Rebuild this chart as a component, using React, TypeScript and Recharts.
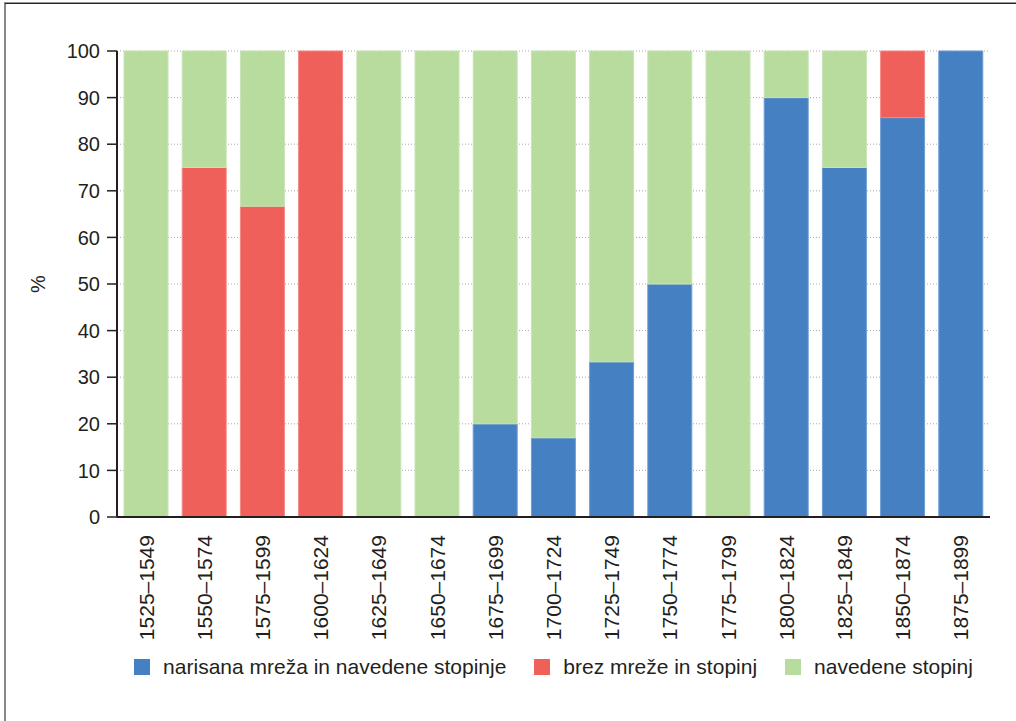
import React from "react";
import { BarChart, Bar, XAxis, YAxis, CartesianGrid, Legend } from "recharts";

const periods = [
  "1525–1549", "1550–1574", "1575–1599", "1600–1624", "1625–1649",
  "1650–1674", "1675–1699", "1700–1724", "1725–1749", "1750–1774",
  "1775–1799", "1800–1824", "1825–1849", "1850–1874", "1875–1899",
];
const mreza = [0, 0, 0, 0, 0, 0, 20, 17, 33.3, 50, 0, 90, 75, 85.7, 100];
const brez = [0, 75, 66.7, 100, 0, 0, 0, 0, 0, 0, 0, 0, 0, 14.3, 0];
const stopinje = [100, 25, 33.3, 0, 100, 100, 80, 83, 66.7, 50, 100, 10, 25, 0, 0];
const yTicks = [0, 10, 20, 30, 40, 50, 60, 70, 80, 90, 100];

const series = [
  { key: "mreza", name: "narisana mreža in navedene stopinje", color: "#4580c2", edge: "#6f9dd2" },
  { key: "brez", name: "brez mreže in stopinj", color: "#f0605a", edge: "#f38883" },
  { key: "stopinje", name: "navedene stopinj", color: "#b8db9e", edge: "#c9e4b6" },
];

const data = periods.map((p, i) => ({
  period: p,
  mreza: mreza[i],
  brez: brez[i],
  stopinje: stopinje[i],
}));

const FONT = "'Liberation Sans', Arial, Helvetica, sans-serif";
const TEXT = "#231f20";

function PeriodTick(props: any) {
  const { x, y, payload } = props;
  return (
    <text
      x={x}
      y={y}
      transform={`rotate(-90, ${x}, ${y})`}
      textAnchor="end"
      dominantBaseline="central"
      fontSize={21}
      fontFamily={FONT}
      fill={TEXT}
    >
      {payload.value}
    </text>
  );
}

function LegendBox() {
  return (
    <div style={{ display: "flex", justifyContent: "center", alignItems: "center", fontFamily: FONT, fontSize: 21, color: TEXT }}>
      {series.map((s, i) => (
        <div key={s.key} style={{ display: "flex", alignItems: "center", marginLeft: i === 0 ? 0 : 28 }}>
          <span style={{ display: "inline-block", width: 16, height: 16, background: s.color, marginRight: 13 }} />
          <span>{s.name}</span>
        </div>
      ))}
    </div>
  );
}

export default function App() {
  return (
    <div
      style={{
        position: "absolute",
        left: 0,
        top: 0,
        width: 1016,
        height: 721,
        background: "#fff",
      }}
    >
      <div style={{ position: "absolute", left: 4, top: 2, width: 1012, height: 719, borderLeft: "2px solid #888", borderTop: "1px solid #999" }} />
      <div style={{ position: "absolute", left: 5, top: 3, width: 1011, height: 1, background: "#222" }} />
      <BarChart
        width={1016}
        height={721}
        data={data}
        margin={{ top: 51, right: 26, left: 0, bottom: 74 }}
        barSize={44}
        style={{ fontFamily: FONT }}
      >
        <CartesianGrid vertical={false} stroke="#a8a8a8" strokeDasharray="1 2" />
        <XAxis
          dataKey="period"
          height={130}
          tickLine={false}
          tickSize={0}
          tickMargin={18}
          interval={0}
          tick={<PeriodTick />}
          axisLine={{ stroke: TEXT, strokeWidth: 2 }}
        />
        <YAxis
          width={117}
          domain={[0, 100]}
          ticks={yTicks}
          interval={0}
          tickSize={10}
          tickMargin={7}
          tick={{ fontSize: 20, fill: TEXT, fontFamily: FONT }}
          tickLine={{ stroke: TEXT, strokeWidth: 1.5 }}
          axisLine={{ stroke: TEXT, strokeWidth: 2 }}
          label={{
            content: () => (
              <text
                x={38}
                y={284}
                transform="rotate(-90, 38, 284)"
                textAnchor="middle"
                dominantBaseline="central"
                fontSize={20}
                fontFamily={FONT}
                fill={TEXT}
              >
                %
              </text>
            ),
          }}
        />
        {series.map((s) => (
          <Bar
            key={s.key}
            dataKey={s.key}
            name={s.name}
            stackId="a"
            fill={s.color}
            stroke={s.edge}
            strokeWidth={1}
            isAnimationActive={false}
          />
        ))}
        <Legend
          layout="horizontal"
          verticalAlign="middle"
          align="center"
          wrapperStyle={{ top: 655, left: 117, width: 873 }}
          content={() => <LegendBox />}
        />
      </BarChart>
    </div>
  );
}
